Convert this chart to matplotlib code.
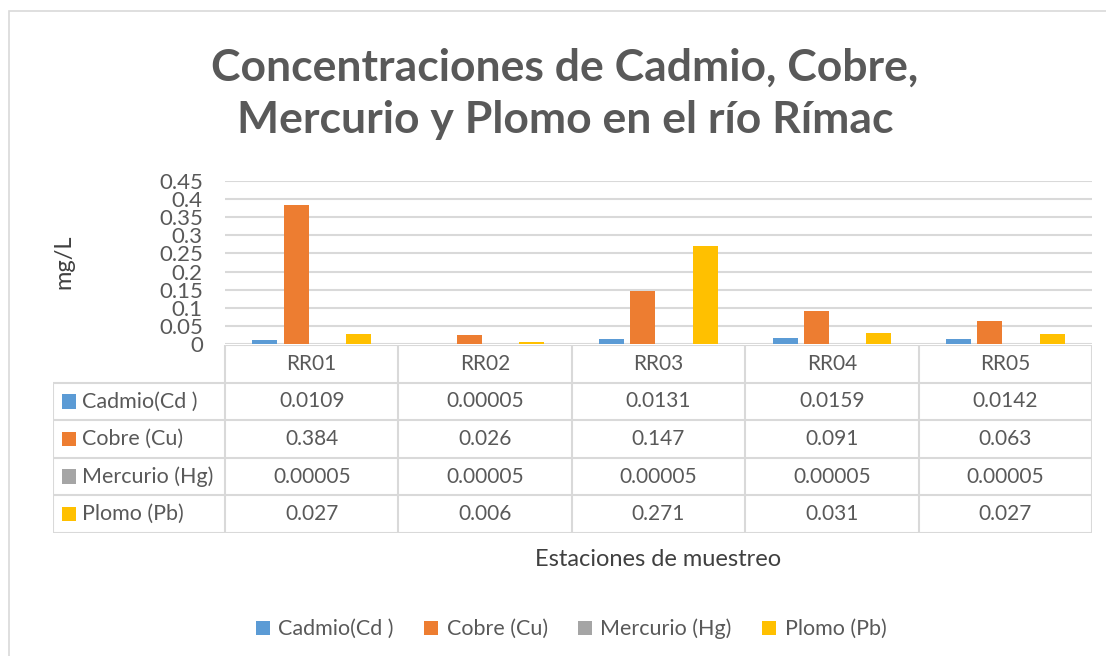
import matplotlib
matplotlib.use("Agg")
import matplotlib.pyplot as plt
from matplotlib.patches import Rectangle, Patch
import numpy as np

plt.rcParams['font.family'] = ['Lato', 'DejaVu Sans']

# data
stations = ["RR01", "RR02", "RR03", "RR04", "RR05"]
series = ["Cadmio(Cd )", "Cobre (Cu)", "Mercurio (Hg)", "Plomo (Pb)"]
cadmio = [0.0109, 0.00005, 0.0131, 0.0159, 0.0142]
cobre = [0.384, 0.026, 0.147, 0.091, 0.063]
mercurio = [0.00005, 0.00005, 0.00005, 0.00005, 0.00005]
plomo = [0.027, 0.006, 0.271, 0.031, 0.027]
cadmio_txt = ["0.0109", "0.00005", "0.0131", "0.0159", "0.0142"]
cobre_txt = ["0.384", "0.026", "0.147", "0.091", "0.063"]
mercurio_txt = ["0.00005"] * 5
plomo_txt = ["0.027", "0.006", "0.271", "0.031", "0.027"]
yticks = [0, 0.05, 0.1, 0.15, 0.2, 0.25, 0.3, 0.35, 0.4, 0.45]
ytick_labels = ["0", "0.05", "0.1", "0.15", "0.2", "0.25", "0.3", "0.35", "0.4", "0.45"]

colors = ["#5B9BD5", "#ED7D31", "#A5A5A5", "#FFC000"]
txt_col = "#595959"
grid_col = "#D9D9D9"

W, H = 1106, 656
fig = plt.figure(figsize=(W / 100, H / 100), dpi=100)

# outer chart border
fig.patches.append(Rectangle((9 / W, -0.1), 1.2, (H - 11) / H + 0.1, transform=fig.transFigure,
                             fill=False, edgecolor=grid_col, lw=1.2))

# plot area in pixels
px_l, px_r, px_t, px_b = 225, 1092, 181, 344
ax = fig.add_axes([px_l / W, (H - px_b) / H, (px_r - px_l) / W, (px_b - px_t) / H])

x = np.arange(len(stations))
vals = [cadmio, cobre, mercurio, plomo]
step, bw = 0.18, 0.145
for i, v in enumerate(vals):
    ax.bar(x + (i - 1.5) * step, v, bw, color=colors[i], zorder=3)

ax.set_xlim(-0.5, len(stations) - 0.5)
ax.set_ylim(0, 0.45)
ax.set_yticks(yticks)
ax.set_yticklabels(ytick_labels, fontsize=16, color=txt_col)
ax.set_xticks([])
ax.tick_params(axis='y', length=0, pad=16)
ax.grid(axis='y', color=grid_col, lw=1.5, zorder=0)
for s in ax.spines.values():
    s.set_visible(False)

# y axis title
fig.text(64 / W, 1 - 262 / H, "mg/L", rotation=90, ha='center', va='center',
         fontsize=17, color="#404040")

# data table below plot
tb_l, tb_t, tb_b = 53, 345, 533
unit = (px_r - px_l) / len(stations)
x_left = -0.5 - (px_l - tb_l) / unit
tax = fig.add_axes([tb_l / W, (H - tb_b) / H, (px_r - tb_l) / W, (tb_b - tb_t) / H])
tax.set_xlim(x_left, len(stations) - 0.5)
nrows = len(series) + 1
tax.set_ylim(nrows, 0)
tax.axis('off')

lkw = dict(color=grid_col, lw=1.5, solid_capstyle='butt')
# horizontal lines
tax.plot([-0.5, len(stations) - 0.5], [0, 0], **lkw)
for r in range(1, nrows + 1):
    tax.plot([x_left, len(stations) - 0.5], [r, r], **lkw)
# vertical lines
tax.plot([x_left, x_left], [1, nrows], **lkw)
for c in range(len(stations) + 1):
    tax.plot([c - 0.5, c - 0.5], [0, nrows], **lkw)

fs_tab = 15
for c, st in enumerate(stations):
    tax.text(c, 0.5, st, ha='center', va='center', fontsize=fs_tab, color=txt_col)
texts = [cadmio_txt, cobre_txt, mercurio_txt, plomo_txt]
for r, name in enumerate(series):
    for c in range(len(stations)):
        tax.text(c, r + 1.5, texts[r][c], ha='center', va='center', fontsize=fs_tab, color=txt_col)
    tax.add_patch(Rectangle((x_left + 9 / unit, r + 1.5 - 0.19), 14 / unit, 0.38, color=colors[r], lw=0))
    tax.text(x_left + 29 / unit, r + 1.5, name, ha='left', va='center', fontsize=15.5, color=txt_col)

# axis title
fig.text((px_l + px_r) / 2 / W, 1 - 560 / H, "Estaciones de muestreo", ha='center', va='center',
         fontsize=17, color="#404040")

# chart title
fig.text(565 / W, 1 - 94 / H, "Concentraciones de Cadmio, Cobre,\nMercurio y Plomo en el río Rímac",
         ha='center', va='center', fontsize=32, fontweight='bold', color=txt_col, linespacing=1.38)

# legend
handles = [Patch(facecolor=colors[i], edgecolor='none') for i in range(len(series))]
leg = fig.legend(handles, series, loc='center', bbox_to_anchor=(571 / W, 1 - 629 / H), ncol=4,
                 frameon=False, fontsize=15.5, handlelength=0.65, handleheight=0.65,
                 handletextpad=0.4, columnspacing=1.4)
for t in leg.get_texts():
    t.set_color(txt_col)

fig.savefig("out.png", dpi=100)
